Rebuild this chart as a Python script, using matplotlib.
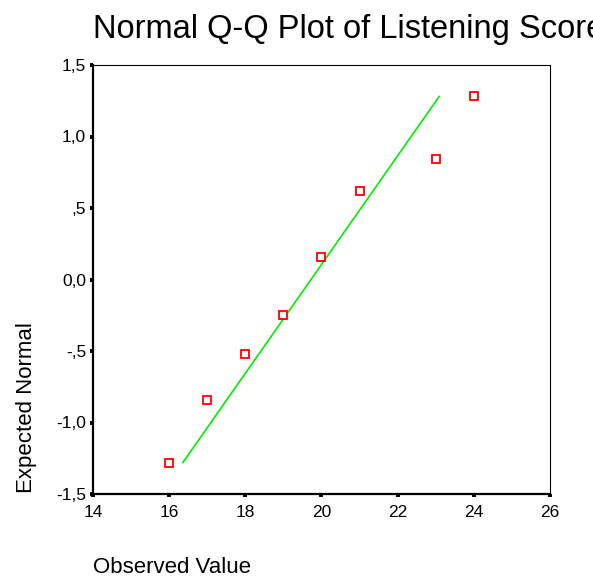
import matplotlib
matplotlib.use('Agg')
import matplotlib.pyplot as plt

# observed values and expected normal quantiles
observed = [16, 17, 18, 19, 20, 21, 23, 24]
expected = [-1.28, -0.84, -0.52, -0.25, 0.16, 0.62, 0.84, 1.28]

# reference normal line (ends)
line_x = [16.36, 23.09]
line_y = [-1.28, 1.28]

x_ticks = [14, 16, 18, 20, 22, 24, 26]
y_ticks = [-1.5, -1.0, -0.5, 0.0, 0.5, 1.0, 1.5]
y_tick_labels = ['-1,5', '-1,0', '-,5', '0,0', ',5', '1,0', '1,5']

plt.rcParams['font.family'] = ['Liberation Sans', 'DejaVu Sans']

fig = plt.figure(figsize=(5.93, 5.79), dpi=100)
ax = fig.add_axes([93 / 593, 1 - 494 / 579, 457 / 593, 429 / 579])

ax.plot(line_x, line_y, color='#00ee00', lw=1.2)
ax.plot(observed, expected, ls='none', marker='s', ms=5.5, mfc='white',
        mec='#ff0000', mew=1.3)

ax.set_xlim(14, 26)
ax.set_ylim(-1.5, 1.5)
ax.set_xticks(x_ticks)
ax.set_yticks(y_ticks)
ax.set_yticklabels(y_tick_labels)

for side in ['left', 'bottom']:
    ax.spines[side].set_linewidth(1.6)
for side in ['top', 'right']:
    ax.spines[side].set_linewidth(0.8)

ax.tick_params(direction='out', length=2.5, width=2.8, labelsize=12.5)
ax.tick_params(axis='y', pad=2.5)
ax.tick_params(axis='x', pad=5.5)

# title runs past the right edge and gets clipped, as in the original
fig.text(93 / 593, 1 - 38 / 579, 'Normal Q-Q Plot of Listening Score',
         fontsize=23.5, ha='left', va='baseline')
fig.text(93 / 593, 1 - 573 / 579, 'Observed Value', fontsize=16,
         ha='left', va='baseline')
fig.text(37 / 593, 1 - 493 / 579, 'Expected Normal', fontsize=16,
         rotation=90, ha='right', va='bottom')

fig.savefig('out.png', dpi=100)
